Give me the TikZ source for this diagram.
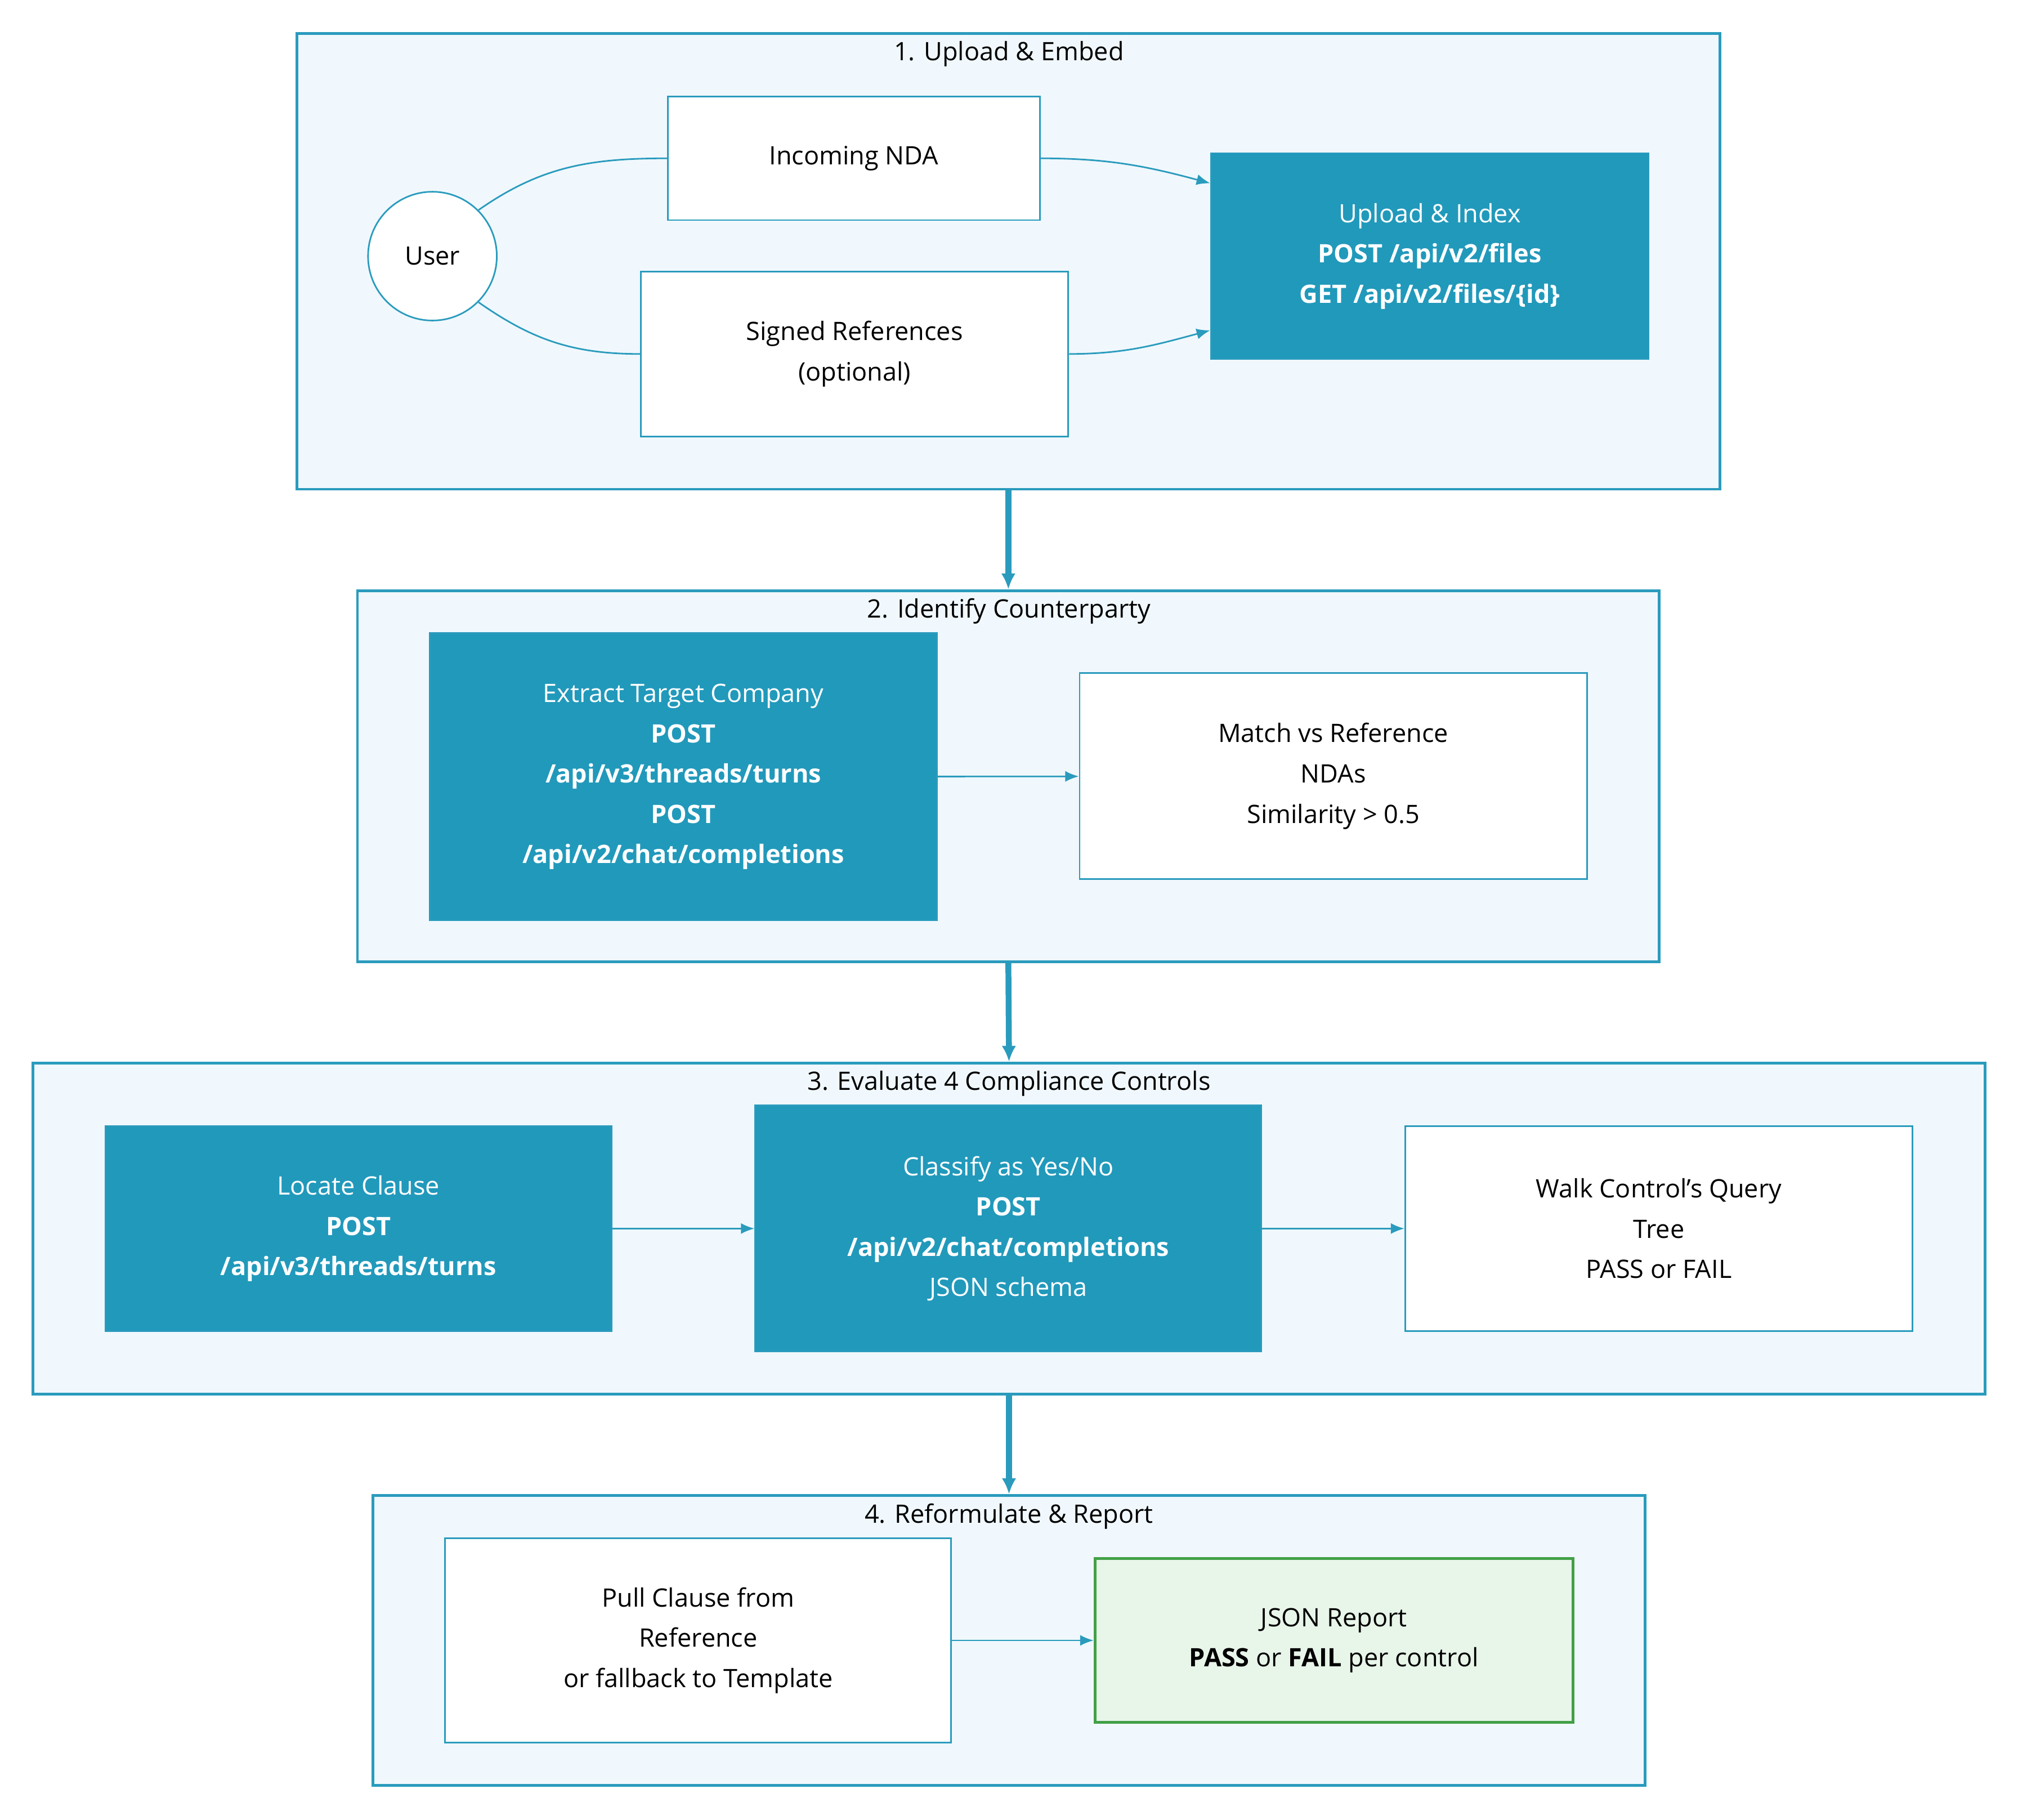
\documentclass[tikz,border=0pt]{standalone}
\usepackage{fontspec}
\setmainfont{Open Sans}
\usetikzlibrary{arrows.meta,positioning}
\definecolor{teal1}{HTML}{2199BB}
\definecolor{edgec}{HTML}{2A9BBD}
\definecolor{clfill}{HTML}{F0F8FD}
\definecolor{okfill}{HTML}{E8F5E9}
\definecolor{okline}{HTML}{43A047}
\tikzset{
  cluster/.style={draw=edgec, line width=0.6pt, fill=clfill, inner sep=0pt},
  ctitle/.style={font=\fontsize{5.6}{7}\selectfont, inner sep=0pt},
  box/.style={draw=edgec, line width=0.35pt, fill=white, align=center, inner sep=0pt,
    font=\fontsize{5.6}{8.9}\selectfont},
  api/.style={box, fill=teal1, text=white},
  report/.style={box, draw=okline, fill=okfill, line width=0.6pt},
  flow/.style={draw=edgec, line width=0.35pt, -{Latex[length=3pt,width=2.4pt]}},
  phase/.style={draw=edgec, line width=1.3pt, -{Latex[length=3.5pt,width=3.2pt]}}
}
\begin{document}
\begin{tikzpicture}[x=0.01cm,y=-0.01cm]
\useasboundingbox (0,0) rectangle (1568,1414);
% clusters
\node[cluster, minimum width=11.05cm, minimum height=3.54cm] (c1) at (783.5,203) {};
\node[cluster, minimum width=10.11cm, minimum height=2.88cm] (c2) at (783.5,603) {};
\node[cluster, minimum width=15.16cm, minimum height=2.57cm] (c3) at (784,954.5) {};
\node[cluster, minimum width=9.88cm, minimum height=2.25cm] (c4) at (784,1274.5) {};
\node[ctitle] at (784,42) {1. Upload \& Embed};
\node[ctitle] at (784,475) {2. Identify Counterparty};
\node[ctitle] at (784,842) {3. Evaluate 4 Compliance Controls};
\node[ctitle] at (784,1178) {4. Reformulate \& Report};
% stage 1
\node[box, circle, minimum size=1cm] (user) at (336,199) {User};
\node[box, minimum width=2.89cm, minimum height=0.96cm] (nda) at (663.5,123) {Incoming NDA};
\node[box, minimum width=3.32cm, minimum height=1.28cm] (refs) at (664,275) {Signed References\\(optional)};
\node[api, minimum width=3.4cm, minimum height=1.6cm] (upload) at (1111,199) {Upload \& Index\\\textbf{POST /api/v2/files}\\\textbf{GET /api/v2/files/\{id\}}};
% stage 2
\node[api, minimum width=3.94cm, minimum height=2.23cm] (extract) at (531,603.5) {Extract Target Company\\\textbf{POST}\\\textbf{/api/v3/threads/turns}\\\textbf{POST}\\\textbf{/api/v2/chat/completions}};
\node[box, minimum width=3.94cm, minimum height=1.6cm] (match) at (1036,603) {Match vs Reference\\NDAs\\Similarity > 0.5};
% stage 3
\node[api, minimum width=3.93cm, minimum height=1.59cm] (locate) at (278.5,954.5) {Locate Clause\\\textbf{POST}\\\textbf{/api/v3/threads/turns}};
\node[api, minimum width=3.93cm, minimum height=1.91cm] (classify) at (783.5,954.5) {Classify as Yes/No\\\textbf{POST}\\\textbf{/api/v2/chat/completions}\\JSON schema};
\node[box, minimum width=3.94cm, minimum height=1.59cm] (walk) at (1289,954.5) {Walk Control's Query\\Tree\\PASS or FAIL};
% stage 4
\node[box, minimum width=3.93cm, minimum height=1.59cm] (pull) at (542.5,1274.5) {Pull Clause from\\Reference\\or fallback to Template};
\node[report, minimum width=3.71cm, minimum height=1.27cm] (json) at (1036.5,1274.5) {JSON Report\\\textbf{PASS} or \textbf{FAIL} per control};
% connectors
\draw[edgec, line width=0.35pt] (user.45) to[out=35,in=180] (nda.west);
\draw[edgec, line width=0.35pt] (user.-45) to[out=-35,in=180] (refs.west);
\draw[flow] (nda.east) to[out=0,in=165] ([yshift=-0.24cm]upload.north west);
\draw[flow] (refs.east) to[out=0,in=195] ([yshift=0.23cm]upload.south west);
\draw[flow] (extract) -- (match);
\draw[flow] (locate) -- (classify);
\draw[flow] (classify) -- (walk);
\draw[flow] (pull) -- (json);
\draw[phase] (c1.south) -- (c2.north);
\draw[phase] (c2.south) -- (c3.north);
\draw[phase] (c3.south) -- (c4.north);
\end{tikzpicture}
\end{document}
